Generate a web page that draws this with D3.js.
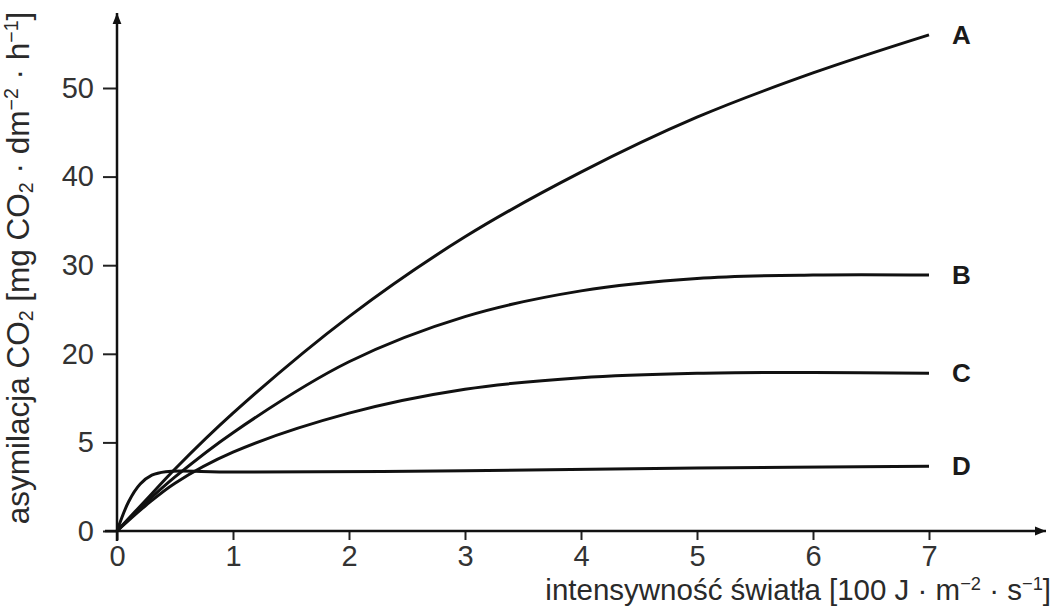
<!DOCTYPE html>
<html>
<head>
<meta charset="utf-8">
<script src="https://cdn.jsdelivr.net/npm/d3@7"></script>
<style>
  body { margin: 0; background: #fff; }
  svg text { font-family: "Liberation Sans", Arial, sans-serif; fill: #2a2a2a; }
</style>
</head>
<body>
<div id="chart"></div>
<script>
// values
var xTicks = [0, 1, 2, 3, 4, 5, 6, 7];
var yTicks = [0, 10, 20, 30, 40, 50];
var yTickLabels = ['0', '5', '20', '30', '40', '50'];
var seriesNames = ['A', 'B', 'C', 'D'];

var lightA = [0, 0.25, 0.5, 1, 2, 3, 4, 5, 6, 7];
var valuesA = [0, 3.5, 7, 13.3, 24.2, 33.2, 40.5, 46.7, 51.7, 56];

var lightB = [0, 0.25, 0.5, 1, 2, 3, 4, 5, 6, 7];
var valuesB = [0, 3.2, 6.1, 11.1, 19.1, 24.2, 27.1, 28.5, 28.9, 28.9];

var lightC = [0, 0.25, 0.5, 1, 2, 3, 4, 5, 6, 7];
var valuesC = [0, 2.9, 5.4, 8.9, 13.3, 16.0, 17.3, 17.8, 17.9, 17.8];

var lightD = [0, 0.1, 0.2, 0.3, 0.42, 1, 3, 5, 7];
var valuesD = [0, 3.3, 5.3, 6.3, 6.7, 6.65, 6.8, 7.1, 7.3];

var width = 1056,
    height = 608;

var x = d3.scaleLinear().domain([0, 7]).range([117, 929]);
var y = d3.scaleLinear().domain([0, 50]).range([531, 88]);

var svg = d3.select('#chart').append('svg')
    .attr('width', width)
    .attr('height', height);

var defs = svg.append('defs');
defs.append('marker')
    .attr('id', 'arrow')
    .attr('viewBox', '0 0 10 10')
    .attr('refX', 10)
    .attr('refY', 5)
    .attr('markerWidth', 13)
    .attr('markerHeight', 11)
    .attr('markerUnits', 'userSpaceOnUse')
    .attr('orient', 'auto')
    .append('path')
    .attr('d', 'M0,1 L10,5 L0,9 Z')
    .attr('fill', '#111');

// axes
var xAxis = d3.axisBottom(x).tickValues(xTicks).tickSize(9).tickPadding(5)
    .tickFormat(d3.format('d'));
var yAxis = d3.axisLeft(y).tickValues(yTicks).tickSize(14).tickPadding(9)
    .tickFormat(function(d, i) { return yTickLabels[i]; });

var gx = svg.append('g').attr('transform', 'translate(0,' + y(0) + ')').call(xAxis);
var gy = svg.append('g').attr('transform', 'translate(' + x(0) + ',0)').call(yAxis);

[gx, gy].forEach(function(g) {
    g.select('.domain').remove();
    g.selectAll('.tick line').attr('stroke', '#222').attr('stroke-width', 2);
    g.selectAll('.tick text')
        .attr('font-size', 29)
        .style('fill', '#333')
        .style('font-family', '"Liberation Sans", Arial, sans-serif');
});

// axis lines with arrow heads
svg.append('line')
    .attr('x1', 105).attr('y1', y(0))
    .attr('x2', 1046).attr('y2', y(0))
    .attr('stroke', '#111').attr('stroke-width', 2.5)
    .attr('marker-end', 'url(#arrow)');

svg.append('line')
    .attr('x1', x(0)).attr('y1', 541)
    .attr('x2', x(0)).attr('y2', 13)
    .attr('stroke', '#111').attr('stroke-width', 2.5)
    .attr('marker-end', 'url(#arrow)');

// curves
var series = [
    { name: 'A', xs: lightA, ys: valuesA },
    { name: 'B', xs: lightB, ys: valuesB },
    { name: 'C', xs: lightC, ys: valuesC },
    { name: 'D', xs: lightD, ys: valuesD }
];

var line = d3.line()
    .x(function(d) { return x(d[0]); })
    .y(function(d) { return y(d[1]); })
    .curve(d3.curveCatmullRom.alpha(0.5));

svg.selectAll('.curve')
    .data(series)
    .enter().append('path')
    .attr('class', 'curve')
    .attr('d', function(s) { return line(d3.zip(s.xs, s.ys)); })
    .attr('fill', 'none')
    .attr('stroke', '#111')
    .attr('stroke-width', 3);

// end labels
svg.selectAll('.lbl')
    .data(series)
    .enter().append('text')
    .attr('class', 'lbl')
    .attr('x', x(7) + 23)
    .attr('y', function(s) { return y(s.ys[s.ys.length - 1]) + 9; })
    .attr('font-size', 26)
    .attr('font-weight', 'bold')
    .style('fill', '#1a1a1a')
    .text(function(s, i) { return seriesNames[i]; });

// helper for texts with sub/superscripts
function richText(sel, parts) {
    parts.forEach(function(p) {
        var t = sel.append('tspan').text(p[0]);
        if (p[1] === 'sup') t.attr('baseline-shift', '55%').attr('font-size', '62%');
        if (p[1] === 'sub') t.attr('baseline-shift', '-20%').attr('font-size', '62%');
    });
}

// y title
var yTitle = svg.append('text')
    .attr('transform', 'translate(29,268) rotate(-90)')
    .attr('text-anchor', 'middle')
    .attr('font-size', 31.5);
richText(yTitle, [
    ['asymilacja CO'], ['2', 'sub'], [' [mg CO'], ['2', 'sub'], [' · dm'], ['−2', 'sup'],
    [' · h'], ['−1', 'sup'], [']']
]);

// x title
var xTitle = svg.append('text')
    .attr('x', 1051)
    .attr('y', 600)
    .attr('text-anchor', 'end')
    .attr('font-size', 29.5);
richText(xTitle, [
    ['intensywność światła [100 J · m'], ['−2', 'sup'], [' · s'], ['−1', 'sup'], [']']
]);
</script>
</body>
</html>
